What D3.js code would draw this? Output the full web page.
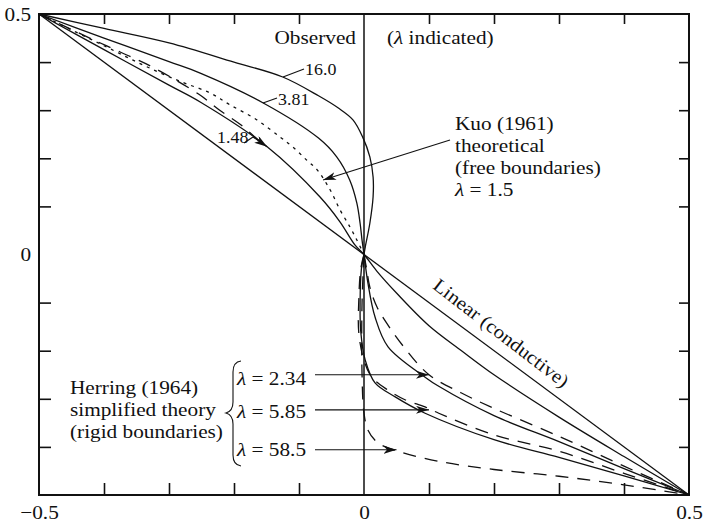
<!DOCTYPE html>
<html lang="en">
<head>
<meta charset="UTF-8">
<title>Temperature profiles</title>
<script src="https://cdn.jsdelivr.net/npm/d3@7"></script>
<style>
  body { margin: 0; background: #fff; }
  svg { display: block; font-family: "Liberation Serif", "Times New Roman", serif; }
  .curve { fill: none; stroke: #111; stroke-width: 1.3px; }
  .axis path.domain { display: none; }
  .axis line { stroke: #111; stroke-width: 1.6px; }
  text { fill: #111; }
</style>
</head>
<body>
<svg id="chart" width="704" height="524"></svg>
<script>
// ticks
const xTicks = [-0.4, -0.3, -0.2, -0.1, 0.1, 0.2, 0.3, 0.4];
const yTicks = [-0.4, -0.3, -0.2, -0.1, 0.1, 0.2, 0.3, 0.4];
const xTickLabels = [-0.5, 0, 0.5];
const yTickLabels = [0.5, 0];

// observed profiles (lambda indicated)
const obs16X = [-0.5, -0.4, -0.3, -0.2, -0.125, -0.07, -0.04, -0.017, -0.002, 0.009, 0.014, 0.014, 0.009, 0.002, 0, -0.004, -0.006, -0.005, 0.002, 0.017, 0.048, 0.094, 0.2, 0.3, 0.4, 0.5];
const obs16Y = [0.5, 0.47, 0.44, 0.4, 0.369, 0.33, 0.305, 0.28, 0.244, 0.203, 0.161, 0.12, 0.065, 0.016, 0, -0.03, -0.1, -0.16, -0.22, -0.267, -0.296, -0.33, -0.385, -0.422, -0.46, -0.5];

const obs381X = [-0.5, -0.4, -0.3, -0.252, -0.155, -0.07, -0.042, -0.022, -0.011, -0.006, -0.003, 0, 0.006, 0.017, 0.037, 0.094, 0.115, 0.2, 0.3, 0.4, 0.5];
const obs381Y = [0.5, 0.45, 0.401, 0.377, 0.315, 0.242, 0.203, 0.155, 0.107, 0.065, 0.03, 0, -0.059, -0.13, -0.192, -0.255, -0.274, -0.335, -0.389, -0.445, -0.5];

const obs148X = [-0.5, -0.4, -0.3, -0.252, -0.149, -0.068, -0.037, -0.014, 0, 0.02, 0.05, 0.1, 0.15, 0.2, 0.3, 0.4, 0.5];
const obs148Y = [0.5, 0.426, 0.352, 0.317, 0.224, 0.12, 0.068, 0.02, 0, -0.035, -0.08, -0.148, -0.2, -0.25, -0.338, -0.42, -0.5];

// Kuo (1961) free boundaries, lambda = 1.5
const kuoX = [-0.5, -0.4, -0.34, -0.283, -0.237, -0.206, -0.165, -0.129, -0.109, -0.088, -0.072, -0.052, -0.037, -0.0215, -0.011, 0];
const kuoY = [0.5, 0.434, 0.394, 0.36, 0.336, 0.311, 0.28, 0.244, 0.223, 0.196, 0.176, 0.134, 0.093, 0.057, 0.03, 0];

// long dashed curve, upper half
const dashLeftX = [-0.5, -0.43, -0.39, -0.357, -0.323, -0.254, -0.222, -0.188, -0.155];
const dashLeftY = [0.5, 0.455, 0.43, 0.41, 0.388, 0.333, 0.3, 0.268, 0.228];

// Herring (1964) rigid boundaries
const her234X = [0, 0.004, 0.009, 0.02, 0.04, 0.06, 0.1, 0.15, 0.2, 0.3, 0.4, 0.5];
const her234Y = [0, -0.03, -0.068, -0.109, -0.153, -0.19, -0.25, -0.288, -0.32, -0.378, -0.44, -0.5];

const her585X = [0, -0.005, -0.008, -0.008, 0.0, 0.012, 0.037, 0.063, 0.094, 0.115, 0.2, 0.3, 0.4, 0.5];
const her585Y = [0, -0.03, -0.095, -0.163, -0.22, -0.255, -0.282, -0.302, -0.317, -0.33, -0.375, -0.409, -0.455, -0.5];

const her585bX = [0, -0.003, -0.003, 0.0, 0.006, 0.02, 0.045, 0.115, 0.2, 0.3, 0.4, 0.5];
const her585bY = [0, -0.1, -0.25, -0.33, -0.365, -0.39, -0.406, -0.43, -0.447, -0.461, -0.479, -0.5];

const linearX = [-0.5, 0.5];
const linearY = [0.5, -0.5];

const svg = d3.select('#chart');
const plotLeft = 39, plotRight = 689, plotTop = 14, plotBottom = 495;
const x = d3.scaleLinear().domain([-0.5, 0.5]).range([plotLeft, plotRight]);
const y = d3.scaleLinear().domain([-0.5, 0.5]).range([plotBottom, plotTop]);
const stretch = 'scale(1.12,1)';

svg.append('rect').attr('width', 704).attr('height', 524).attr('fill', '#fff');

const defs = svg.append('defs');
defs.append('marker')
    .attr('id', 'arrow')
    .attr('viewBox', '0 0 13 8')
    .attr('refX', 13).attr('refY', 4)
    .attr('markerWidth', 13).attr('markerHeight', 8)
    .attr('markerUnits', 'userSpaceOnUse')
    .attr('orient', 'auto')
    .append('path')
    .attr('d', 'M0,0 L13,4 L0,8 L3.5,4 Z')
    .attr('fill', '#111');

// inward ticks on all four sides
svg.append('g').attr('class', 'axis').attr('transform', `translate(0,${plotBottom})`)
    .call(d3.axisBottom(x).tickValues(xTicks).tickSize(-12).tickFormat(''));
svg.append('g').attr('class', 'axis').attr('transform', `translate(0,${plotTop})`)
    .call(d3.axisTop(x).tickValues(xTicks).tickSize(-10).tickFormat(''));
svg.append('g').attr('class', 'axis').attr('transform', `translate(${plotLeft},0)`)
    .call(d3.axisLeft(y).tickValues(yTicks).tickSize(-12).tickFormat(''));
svg.append('g').attr('class', 'axis').attr('transform', `translate(${plotRight},0)`)
    .call(d3.axisRight(y).tickValues(yTicks).tickSize(-10).tickFormat(''));

const fmt = d => d === 0 ? '0' : d3.format('.1f')(d);
const xl = svg.append('g').attr('class', 'axis').attr('transform', `translate(0,${plotBottom})`)
    .call(d3.axisBottom(x).tickValues(xTickLabels).tickSize(0).tickPadding(11).tickFormat(fmt));
const yl = svg.append('g').attr('class', 'axis').attr('transform', `translate(${plotLeft},0)`)
    .call(d3.axisLeft(y).tickValues(yTickLabels).tickSize(0).tickPadding(7).tickFormat(fmt));
[xl, yl].forEach(g => g.selectAll('text')
    .attr('font-size', 19).attr('font-family', '"Liberation Serif", serif')
    .attr('fill', '#111').attr('transform', stretch));

// frame and centre line
svg.append('rect')
    .attr('x', plotLeft).attr('y', plotTop)
    .attr('width', plotRight - plotLeft).attr('height', plotBottom - plotTop)
    .attr('fill', 'none').attr('stroke', '#111').attr('stroke-width', 2);
svg.append('line')
    .attr('x1', x(0)).attr('x2', x(0)).attr('y1', plotTop).attr('y2', plotBottom)
    .attr('stroke', '#111').attr('stroke-width', 1.5);

// curves
const series = [
    { xs: linearX, ys: linearY, dash: null },
    { xs: obs16X, ys: obs16Y, dash: null },
    { xs: obs381X, ys: obs381Y, dash: null },
    { xs: obs148X, ys: obs148Y, dash: null },
    { xs: kuoX, ys: kuoY, dash: '3,5' },
    { xs: dashLeftX, ys: dashLeftY, dash: '13,9' },
    { xs: her234X, ys: her234Y, dash: '13,9' },
    { xs: her585X, ys: her585Y, dash: '13,9' },
    { xs: her585bX, ys: her585bY, dash: '13,9' }
];

const line = d3.line()
    .x(d => x(d[0]))
    .y(d => y(d[1]))
    .curve(d3.curveCatmullRom.alpha(0.5));

svg.append('g').selectAll('path')
    .data(series)
    .enter().append('path')
    .attr('class', 'curve')
    .attr('stroke-dasharray', d => d.dash)
    .attr('d', d => line(d.xs.map((v, i) => [v, d.ys[i]])));

// annotations
function label(px, py, parts, size, anchor) {
    const t = svg.append('text')
        .attr('transform', `translate(${px},${py}) ${stretch}`)
        .attr('font-size', size)
        .attr('text-anchor', anchor || 'start');
    parts.forEach(p => {
        const s = t.append('tspan').text(p.t || p);
        if (p.i) s.attr('font-style', 'italic');
    });
    return t;
}
function seg(x1, y1, x2, y2, arrow) {
    const l = svg.append('line')
        .attr('x1', x1).attr('y1', y1).attr('x2', x2).attr('y2', y2)
        .attr('stroke', '#111').attr('stroke-width', 1.1);
    if (arrow) l.attr('marker-end', 'url(#arrow)');
}

label(356, 44, ['Observed'], 19, 'end');
label(387, 44, ['(', { t: 'λ', i: true }, ' indicated)'], 19);

// curve labels on the observed profiles
seg(283, 77, 304, 69);
label(305, 75, ['16.0'], 16);
seg(263, 103, 277, 98);
label(278, 105, ['3.81'], 16);
label(217, 143, ['1.48'], 16);
seg(244, 143, 253, 137);
seg(253, 137, x(-0.149), y(0.224), true);

// Kuo
['Kuo (1961)', 'theoretical', '(free boundaries)'].forEach((s, i) => label(455, 130 + i * 22, [s], 19));
label(455, 196, [{ t: 'λ', i: true }, ' = 1.5'], 19);
seg(450, 140, x(-0.063), y(0.155), true);

// linear label along the line
const ang = Math.atan2(y(-0.5) - y(0.5), x(0.5) - x(-0.5));
const lx = x(0.194) + Math.sin(ang) * 12, ly = y(-0.194) - Math.cos(ang) * 12;
svg.append('text')
    .attr('transform', `translate(${lx},${ly}) rotate(${ang * 180 / Math.PI + 1}) scale(1.1,1)`)
    .attr('font-size', 19).attr('text-anchor', 'middle')
    .text('Linear (conductive)');

// Herring
['Herring (1964)', 'simplified theory', '(rigid boundaries)'].forEach((s, i) => label(70, 394 + i * 22, [s], 19));
svg.append('path')
    .attr('d', 'M241,361 Q233,362 233,372 L233,402 Q233,411 226,413 Q233,415 233,424 L233,455 Q233,465 241,466')
    .attr('fill', 'none').attr('stroke', '#111').attr('stroke-width', 1.1);
label(237, 385, [{ t: 'λ', i: true }, ' = 2.34'], 19);
label(237, 418, [{ t: 'λ', i: true }, ' = 5.85'], 19);
label(237, 456, [{ t: 'λ', i: true }, ' = 58.5'], 19);
seg(315, y(-0.25), x(0.1), y(-0.25), true);
seg(315, y(-0.323), x(0.1), y(-0.323), true);
seg(315, y(-0.406), x(0.05), y(-0.406), true);
</script>
</body>
</html>
